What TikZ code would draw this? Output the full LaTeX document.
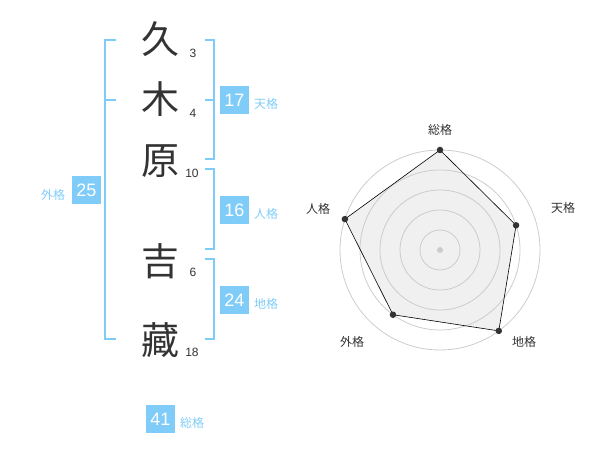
\documentclass[tikz,border=0pt]{standalone}
\usepackage{fontspec}
\setmainfont{Liberation Sans}
\newfontfamily\jp{Noto Sans CJK JP}
\definecolor{sky}{RGB}{128,204,248}
\definecolor{ink}{RGB}{51,51,51}
\definecolor{ring}{RGB}{204,204,204}
\definecolor{area}{RGB}{240,240,240}
\tikzset{
  kanji/.style={font=\jp\fontsize{38}{38}\selectfont, text=ink, inner sep=0pt},
  strokes/.style={font=\fontsize{12}{12}\selectfont, text=ink, inner sep=0pt},
  numbox/.style={fill=sky, text=white, font=\fontsize{18}{18}\selectfont, minimum width=29pt, minimum height=28pt, inner sep=0pt},
  kaku/.style={font=\jp\fontsize{12}{12}\selectfont, text=sky, inner sep=0pt},
  bracket/.style={draw=sky, line width=2pt},
  axislabel/.style={font=\jp\fontsize{12}{12}\selectfont, text=ink, inner sep=0pt},
  ringline/.style={draw=ring, line width=0.8pt},
  vdot/.style={circle, fill=ink, inner sep=0pt, minimum size=6.5pt},
}
\begin{document}
\begin{tikzpicture}[x=1pt,y=-1pt]
\useasboundingbox (0,0) rectangle (600,470);
% name characters
\node[kanji] (k1) at (160,39.5) {久};
\node[kanji] (k2) at (160,99) {木};
\node[kanji] (k3) at (160,161) {原};
\node[kanji] (k4) at (160,261) {吉};
\node[kanji] (k5) at (160,340) {藏};
% stroke counts
\node[strokes] (s1) at (193,53.5) {3};
\node[strokes] (s2) at (193,113) {4};
\node[strokes] (s3) at (192,173.3) {10};
\node[strokes] (s4) at (193,272.7) {6};
\node[strokes] (s5) at (192,352.3) {18};
% brackets
\draw[bracket] (115.5,40) -- (105,40) -- (105,339.3) -- (115.5,339.3);
\draw[bracket] (105,100) -- (115.5,100);
\draw[bracket] (205,40) -- (214,40) -- (214,159.3) -- (205,159.3);
\draw[bracket] (205,100) -- (214,100);
\draw[bracket] (205,169.3) -- (214,169.3) -- (214,249.3) -- (205,249.3);
\draw[bracket] (205,259.3) -- (214,259.3) -- (214,339.3) -- (205,339.3);
% boxes and labels
\node[numbox] (ten) at (234.5,100) {17};
\node[kaku] (tenl) at (266,104) {天格};
\node[numbox] (jin) at (234.5,210) {16};
\node[kaku] (jinl) at (266,214) {人格};
\node[numbox] (chi) at (234.5,300.5) {24};
\node[kaku] (chil) at (266,304.3) {地格};
\node[numbox] (gai) at (86.5,190) {25};
\node[kaku] (gail) at (53,194.5) {外格};
\node[numbox] (sou) at (160.5,419) {41};
\node[kaku] (soul) at (192,423.3) {総格};
% radar chart
\begin{scope}[shift={(440,250)}]
  \coordinate (c) at (0,0);
  \coordinate (pS) at (90:100pt);
  \coordinate (pT) at (18:80pt);
  \coordinate (pC) at (-54:100pt);
  \coordinate (pG) at (-126:80pt);
  \coordinate (pJ) at (162:100pt);
  \fill[area] (pS) -- (pT) -- (pC) -- (pG) -- (pJ) -- cycle;
  \foreach \r in {20,40,60,80,100} \draw[ringline] (c) circle[radius=\r pt];
  \fill[ring] (c) circle[radius=3pt];
  \draw[black, line width=0.6pt] (pS) -- (pT) -- (pC) -- (pG) -- (pJ) -- cycle;
  \node[vdot] (dS) at (pS) {};
  \node[vdot] (dT) at (pT) {};
  \node[vdot] (dC) at (pC) {};
  \node[vdot] (dG) at (pG) {};
  \node[vdot] (dJ) at (pJ) {};
\end{scope}
\node[axislabel] (lS) at (440,130) {総格};
\node[axislabel] (lT) at (563,208) {天格};
\node[axislabel] (lJ) at (318,209) {人格};
\node[axislabel] (lG) at (352,342) {外格};
\node[axislabel] (lC) at (524,342) {地格};
\end{tikzpicture}
\end{document}
